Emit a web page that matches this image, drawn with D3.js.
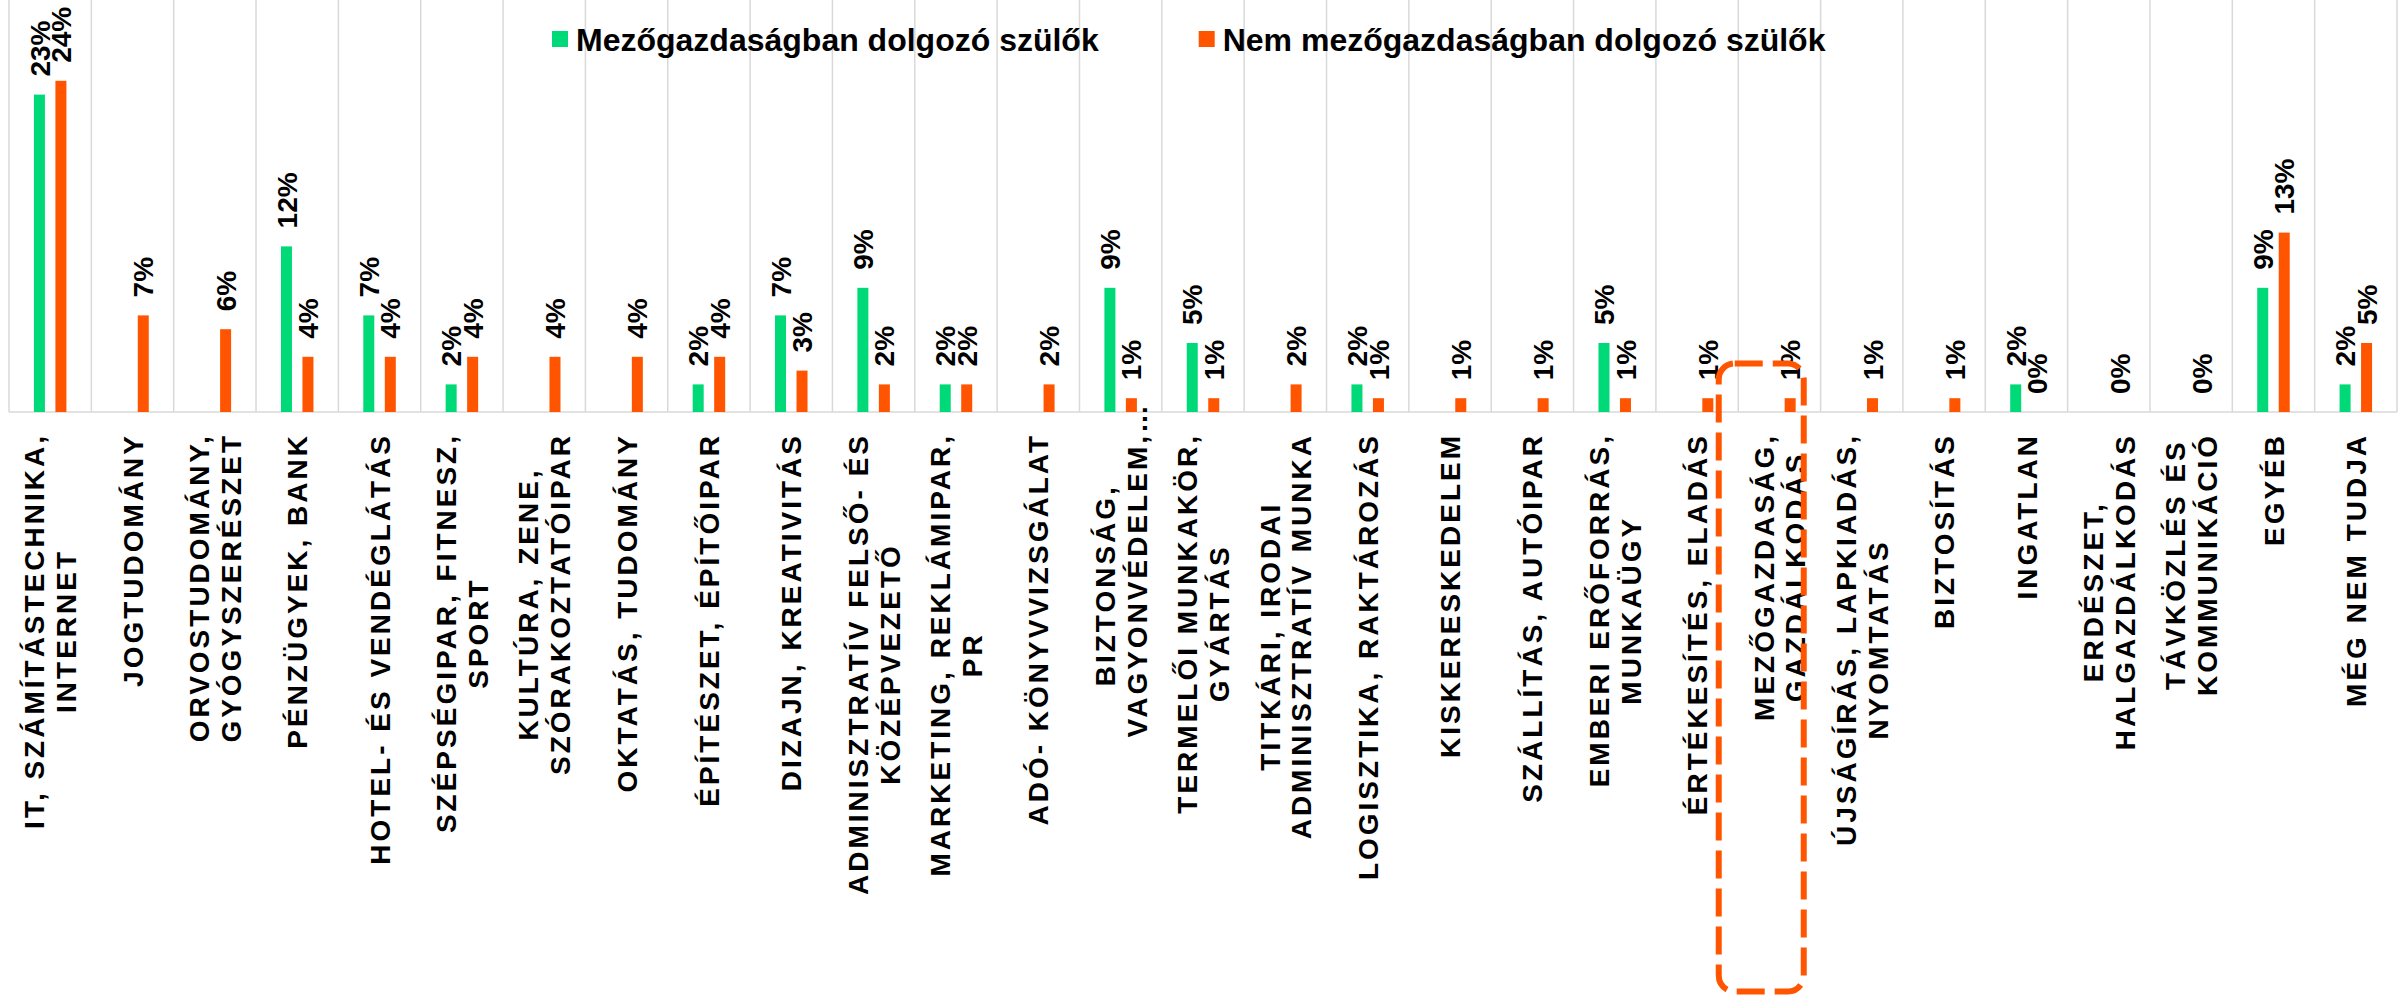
<!DOCTYPE html>
<html>
<head>
<meta charset="utf-8">
<script src="https://cdn.jsdelivr.net/npm/d3@7"></script>
<style>
  body { margin: 0; background: #fff; }
  text { font-family: "Liberation Sans", Arial, sans-serif; font-weight: bold; fill: #000; }
</style>
</head>
<body>
<div id="chart"></div>
<script>
// categories, lines split by \n
var categories = [
  "IT, SZÁMÍTÁSTECHNIKA,\nINTERNET",
  "JOGTUDOMÁNY",
  "ORVOSTUDOMÁNY,\nGYÓGYSZERÉSZET",
  "PÉNZÜGYEK, BANK",
  "HOTEL- ÉS VENDÉGLÁTÁS",
  "SZÉPSÉGIPAR, FITNESZ,\nSPORT",
  "KULTÚRA, ZENE,\nSZÓRAKOZTATÓIPAR",
  "OKTATÁS, TUDOMÁNY",
  "ÉPÍTÉSZET, ÉPÍTŐIPAR",
  "DIZAJN, KREATIVITÁS",
  "ADMINISZTRATÍV FELSŐ- ÉS\nKÖZÉPVEZETŐ",
  "MARKETING, REKLÁMIPAR,\nPR",
  "ADÓ- KÖNYVVIZSGÁLAT",
  "BIZTONSÁG,\nVAGYONVÉDELEM,…",
  "TERMELŐI MUNKAKÖR,\nGYÁRTÁS",
  "TITKÁRI, IRODAI\nADMINISZTRATÍV MUNKA",
  "LOGISZTIKA, RAKTÁROZÁS",
  "KISKERESKEDELEM",
  "SZÁLLÍTÁS, AUTÓIPAR",
  "EMBERI ERŐFORRÁS,\nMUNKAÜGY",
  "ÉRTÉKESÍTÉS, ELADÁS",
  "MEZŐGAZDASÁG,\nGAZDÁLKODÁS",
  "ÚJSÁGÍRÁS, LAPKIADÁS,\nNYOMTATÁS",
  "BIZTOSÍTÁS",
  "INGATLAN",
  "ERDÉSZET,\nHALGAZDÁLKODÁS",
  "TÁVKÖZLÉS ÉS\nKOMMUNIKÁCIÓ",
  "EGYÉB",
  "MÉG NEM TUDJA"
];
var seriesNames = ["Mezőgazdaságban dolgozó szülők", "Nem mezőgazdaságban dolgozó szülők"];
// percent values, null = no value
var farmParents = [23, null, null, 12, 7, 2, null, null, 2, 7, 9, 2, null, 9, 5, null, 2, null, null, 5, null, null, null, null, 2, null, null, 9, 2];
var otherParents = [24, 7, 6, 4, 4, 4, 4, 4, 4, 3, 2, 2, 2, 1, 1, 2, 1, 1, 1, 1, 1, 1, 1, 1, 0, 0, 0, 13, 5];
var highlighted = "MEZŐGAZDASÁG,\nGAZDÁLKODÁS";

var colors = ["#00d977", "#ff5500"];
var w = 2407, h = 1002;
var plot = {left: 9, right: 2397, top: -2, bottom: 412};
var catFont = 28, lineStep = 31.7, labelTop = 433;

var svg = d3.select("#chart")
  .append("svg")
  .attr("width", w)
  .attr("height", h);

svg.append("rect").attr("width", w).attr("height", h).attr("fill", "#fff");

var x = d3.scaleBand()
  .domain(categories)
  .range([plot.left, plot.right]);

var x1 = d3.scaleBand()
  .domain([0, 1])
  .range([-16.25, 16.25])
  .paddingInner(0.488);

var y = d3.scaleLinear()
  .domain([0, 30])
  .range([plot.bottom, plot.top]);

// vertical gridlines on the category borders
var borders = d3.range(categories.length + 1).map(function(i) { return plot.left + i * x.step(); });
svg.append("g")
  .selectAll("line")
  .data(borders)
  .enter()
  .append("line")
  .attr("x1", function(d) { return d; })
  .attr("x2", function(d) { return d; })
  .attr("y1", 0)
  .attr("y2", plot.bottom)
  .attr("stroke", "#d9d9d9")
  .attr("stroke-width", 1.5);

svg.append("line")
  .attr("x1", plot.left)
  .attr("x2", plot.right)
  .attr("y1", plot.bottom)
  .attr("y2", plot.bottom)
  .attr("stroke", "#d9d9d9")
  .attr("stroke-width", 1.5);

// bars + data labels
var series = [farmParents, otherParents];
series.forEach(function(vals, s) {
  var pts = categories.map(function(c, i) { return {cat: c, v: vals[i]}; })
    .filter(function(d) { return d.v !== null; });

  svg.append("g")
    .selectAll("rect")
    .data(pts)
    .enter()
    .append("rect")
    .attr("x", function(d) { return x(d.cat) + x.bandwidth() / 2 + x1(s); })
    .attr("y", function(d) { return y(d.v); })
    .attr("width", x1.bandwidth())
    .attr("height", function(d) { return y(0) - y(d.v); })
    .attr("fill", colors[s]);

  svg.append("g")
    .selectAll("text")
    .data(pts)
    .enter()
    .append("text")
    .attr("transform", function(d) {
      var cx = x(d.cat) + x.bandwidth() / 2 + x1(s) + x1.bandwidth() / 2;
      return "translate(" + cx + "," + (y(d.v) - 18) + ") rotate(-90)";
    })
    .attr("dy", "0.36em")
    .style("font-size", "28px")
    .text(function(d) { return Math.round(d.v) + "%"; });
});

// category labels, rotated, lines centred in a block that hangs from labelTop
var measure = svg.append("text")
  .style("font-size", catFont + "px")
  .style("letter-spacing", "3px");
function textLen(s) {
  measure.text(s);
  return measure.node().getComputedTextLength();
}

var catG = svg.append("g")
  .selectAll("g")
  .data(categories)
  .enter()
  .append("g")
  .attr("transform", function(d) {
    return "translate(" + (x(d) + x.bandwidth() / 2) + "," + labelTop + ") rotate(-90)";
  });

catG.each(function(d) {
  var lines = d.split("\n");
  var lens = lines.map(function(l) { return textLen(l.replace(/…$/, "")); });
  var maxLen = d3.max(lens);
  var g = d3.select(this);
  lines.forEach(function(l, i) {
    g.append("text")
      .attr("x", -maxLen / 2 - lens[i] / 2)
      .attr("y", (i - (lines.length - 1) / 2) * lineStep)
      .attr("dy", "0.36em")
      .style("font-size", catFont + "px")
      .style("letter-spacing", "3px")
      .text(l);
  });
});
measure.remove();

// legend
var legendX = 552;
seriesNames.forEach(function(name, s) {
  svg.append("rect")
    .attr("x", legendX)
    .attr("y", 31)
    .attr("width", 16)
    .attr("height", 16)
    .attr("fill", colors[s]);
  var t = svg.append("text")
    .attr("x", legendX + 24)
    .attr("y", 50.5)
    .style("font-size", "32px")
    .text(name);
  legendX = legendX + 24 + t.node().getComputedTextLength() + 100;
});

// dashed highlight box round one category
svg.append("rect")
  .attr("x", x(highlighted) - 19.5)
  .attr("y", 363.5)
  .attr("width", 85)
  .attr("height", 628)
  .attr("rx", 16)
  .attr("fill", "none")
  .attr("stroke", colors[1])
  .attr("stroke-width", 6)
  .attr("stroke-dasharray", "28,10");
</script>
</body>
</html>
